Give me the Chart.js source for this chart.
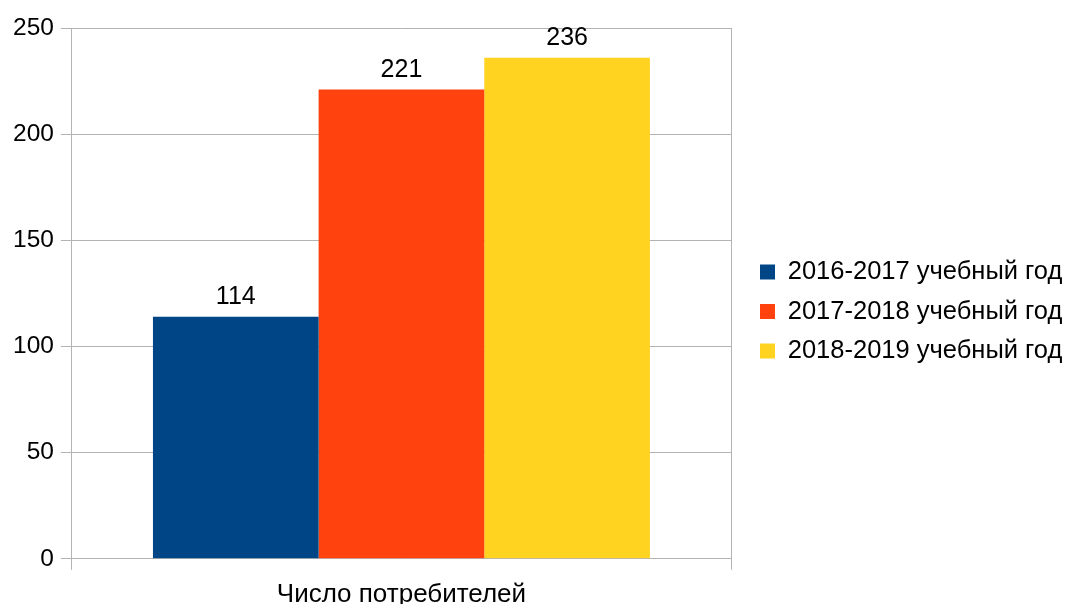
<!DOCTYPE html>
<html>
<head>
<meta charset="utf-8">
<script src="https://cdn.jsdelivr.net/npm/chart.js@4"></script>
<style>
  html, body { margin: 0; padding: 0; background: #fff; overflow: hidden; }
  #wrap { width: 1067px; height: 604px; overflow: hidden; }
</style>
</head>
<body>
<div id="wrap"><canvas id="chart" width="1067" height="619"></canvas></div>
<script>
// chart data
const categories = ["Число потребителей"];
const seriesNames = ["2016-2017 учебный год", "2017-2018 учебный год", "2018-2019 учебный год"];
const seriesValues = [[114], [221], [236]];
const seriesColors = ["#004586", "#ff420e", "#ffd320"];

const yMax = 250;
const yStep = 50;

const FONT = "'Liberation Sans', Arial, sans-serif";

// values above the bars
const barValues = {
    id: 'barValues',
    afterDatasetsDraw(chart) {
        const ctx = chart.ctx;
        ctx.save();
        ctx.font = "25px " + FONT;
        ctx.fillStyle = "#000";
        ctx.textAlign = "center";
        ctx.textBaseline = "bottom";
        chart.data.datasets.forEach((ds, i) => {
            chart.getDatasetMeta(i).data.forEach((bar, j) => {
                ctx.fillText(String(ds.data[j]), bar.x, bar.y - 7);
            });
        });
        ctx.restore();
    }
};

// fixed legend column so the plot ends at x=731, then nudge the items
const legendSpace = {
    id: 'legendSpace',
    beforeInit(chart) {
        const origFit = chart.legend.fit;
        chart.legend.fit = function () {
            origFit.bind(this)();
            this.width = 336;
        };
    },
    afterLayout(chart) {
        const lg = chart.legend;
        lg.left += 15;
        lg.right += 15;
        lg.top -= 12;
        lg.bottom -= 12;
    }
};

const ctx = document.getElementById('chart').getContext('2d');
new Chart(ctx, {
    type: 'bar',
    data: {
        labels: categories,
        datasets: seriesNames.map((name, i) => ({
            label: name,
            data: seriesValues[i],
            backgroundColor: seriesColors[i],
            borderWidth: 0,
            categoryPercentage: 0.754,
            barPercentage: 1
        }))
    },
    options: {
        responsive: false,
        animation: false,
        layout: { padding: { left: 6, top: 28, right: 0, bottom: 0 } },
        plugins: {
            legend: {
                position: 'right',
                align: 'center',
                labels: {
                    boxWidth: 15,
                    boxHeight: 15,
                    padding: 14,
                    color: '#000',
                    font: { family: FONT, size: 25.5 }
                }
            },
            tooltip: { enabled: false }
        },
        scales: {
            x: {
                grid: { color: '#b3b3b3', offset: true, tickLength: 11, lineWidth: 1 },
                border: { color: '#b3b3b3' },
                ticks: { color: '#000', padding: 9, font: { family: FONT, size: 26 } }
            },
            y: {
                min: 0,
                max: yMax,
                ticks: { stepSize: yStep, color: '#000', padding: 7, font: { family: FONT, size: 24.5 } },
                grid: { color: '#b3b3b3', tickLength: 11, lineWidth: 1 },
                border: { color: '#b3b3b3' }
            }
        }
    },
    plugins: [barValues, legendSpace]
});
</script>
</body>
</html>
